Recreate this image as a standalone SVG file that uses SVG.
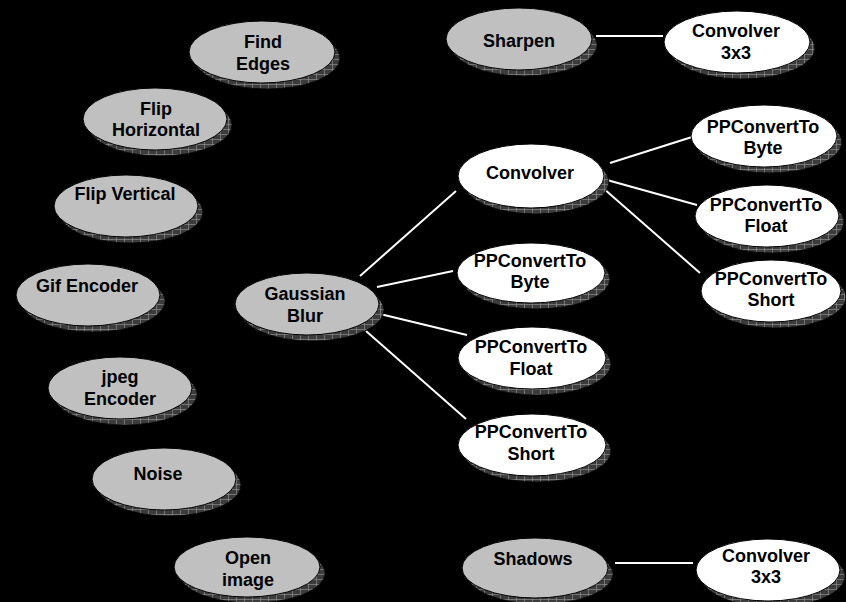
<svg xmlns="http://www.w3.org/2000/svg" width="846" height="602" viewBox="0 0 846 602">
<defs>
<pattern id="hatch" width="8" height="5" patternUnits="userSpaceOnUse">
<rect width="8" height="5" fill="#3c3c3c"/>
<path d="M0 4.5H8M4.5 0V5" stroke="#8c8c8c" stroke-width="0.7"/>
</pattern>
<style>
.bg{fill:#000}
.sh{fill:url(#hatch);stroke:#000;stroke-width:0.8}
.g{fill:#c0c0c0;stroke:#000;stroke-width:1}
.w{fill:#fff;stroke:#000;stroke-width:1}
text{font-family:"Liberation Sans",Arial,sans-serif;font-weight:bold;font-size:18px;fill:#000;text-anchor:middle}
.c line{stroke:#fff;stroke-width:2}
</style>
</defs>
<rect class="bg" width="846" height="602"/>
<g class="c" id="connectors">
<line x1="596" y1="36" x2="663" y2="36"/>
<line x1="615" y1="563" x2="693" y2="563"/>
<line x1="360" y1="276" x2="456" y2="191"/>
<line x1="377" y1="287" x2="453" y2="271"/>
<line x1="380" y1="314" x2="467" y2="335"/>
<line x1="366" y1="331" x2="466" y2="419"/>
<line x1="610" y1="163" x2="692" y2="137"/>
<line x1="607" y1="180" x2="697" y2="205"/>
<line x1="603" y1="188" x2="700" y2="273"/>
</g>
<g id="findEdges"><ellipse class="sh" cx="267" cy="58" rx="73" ry="31"/><ellipse class="g" cx="262" cy="52" rx="73" ry="31"/><text x="263" y="48">Find</text><text x="263" y="70">Edges</text></g>
<g id="flipH"><ellipse class="sh" cx="160" cy="125" rx="72" ry="31"/><ellipse class="g" cx="155" cy="119" rx="72" ry="31"/><text x="156" y="115">Flip</text><text x="156" y="136">Horizontal</text></g>
<g id="flipV"><ellipse class="sh" cx="131" cy="212" rx="72" ry="31"/><ellipse class="g" cx="126" cy="206" rx="72" ry="31"/><text x="125" y="200">Flip Vertical</text></g>
<g id="gif"><ellipse class="sh" cx="93" cy="301" rx="72" ry="31"/><ellipse class="g" cx="88" cy="295" rx="72" ry="31"/><text x="87" y="292">Gif Encoder</text></g>
<g id="jpeg"><ellipse class="sh" cx="125" cy="394" rx="72" ry="31"/><ellipse class="g" cx="120" cy="388" rx="72" ry="31"/><text x="120" y="383">jpeg</text><text x="120" y="405">Encoder</text></g>
<g id="noise"><ellipse class="sh" cx="169" cy="485" rx="72" ry="31"/><ellipse class="g" cx="164" cy="479" rx="72" ry="31"/><text x="158" y="480">Noise</text></g>
<g id="openImage"><ellipse class="sh" cx="252" cy="573" rx="73" ry="30"/><ellipse class="g" cx="247" cy="567" rx="73" ry="30"/><text x="248" y="564">Open</text><text x="248" y="586">image</text></g>
<g id="gaussian"><ellipse class="sh" cx="312" cy="310" rx="72" ry="31"/><ellipse class="g" cx="307" cy="304" rx="72" ry="31"/><text x="305" y="300">Gaussian</text><text x="305" y="322">Blur</text></g>
<g id="sharpen"><ellipse class="sh" cx="524" cy="45" rx="73" ry="31"/><ellipse class="g" cx="519" cy="39" rx="73" ry="31"/><text x="519" y="47">Sharpen</text></g>
<g id="conv3x3a"><ellipse class="sh" cx="742" cy="48" rx="73" ry="31"/><ellipse class="w" cx="737" cy="42" rx="73" ry="31"/><text x="736" y="37">Convolver</text><text x="736" y="59">3x3</text></g>
<g id="convolver"><ellipse class="sh" cx="536" cy="182" rx="73" ry="32"/><ellipse class="w" cx="531" cy="176" rx="73" ry="32"/><text x="530" y="179">Convolver</text></g>
<g id="ppByteR"><ellipse class="sh" cx="769" cy="142" rx="73" ry="31"/><ellipse class="w" cx="764" cy="136" rx="73" ry="31"/><text x="763" y="133">PPConvertTo</text><text x="763" y="154">Byte</text></g>
<g id="ppFloatR"><ellipse class="sh" cx="772" cy="222" rx="72" ry="31"/><ellipse class="w" cx="767" cy="216" rx="72" ry="31"/><text x="766" y="211">PPConvertTo</text><text x="766" y="232">Float</text></g>
<g id="ppShortR"><ellipse class="sh" cx="776" cy="297" rx="70" ry="31"/><ellipse class="w" cx="771" cy="291" rx="70" ry="31"/><text x="771" y="285">PPConvertTo</text><text x="771" y="306">Short</text></g>
<g id="ppByteM"><ellipse class="sh" cx="536" cy="279" rx="74" ry="30"/><ellipse class="w" cx="531" cy="273" rx="74" ry="30"/><text x="530" y="267">PPConvertTo</text><text x="530" y="288">Byte</text></g>
<g id="ppFloatM"><ellipse class="sh" cx="537" cy="364" rx="74" ry="31"/><ellipse class="w" cx="532" cy="358" rx="74" ry="31"/><text x="531" y="353">PPConvertTo</text><text x="531" y="375">Float</text></g>
<g id="ppShortM"><ellipse class="sh" cx="537" cy="451" rx="74" ry="31"/><ellipse class="w" cx="532" cy="445" rx="74" ry="31"/><text x="531" y="438">PPConvertTo</text><text x="531" y="460">Short</text></g>
<g id="shadows"><ellipse class="sh" cx="540" cy="574" rx="73" ry="30"/><ellipse class="g" cx="535" cy="568" rx="73" ry="30"/><text x="533" y="565">Shadows</text></g>
<g id="conv3x3b"><ellipse class="sh" cx="773" cy="576" rx="72" ry="31"/><ellipse class="w" cx="768" cy="570" rx="72" ry="31"/><text x="766" y="562">Convolver</text><text x="766" y="583">3x3</text></g>
</svg>
